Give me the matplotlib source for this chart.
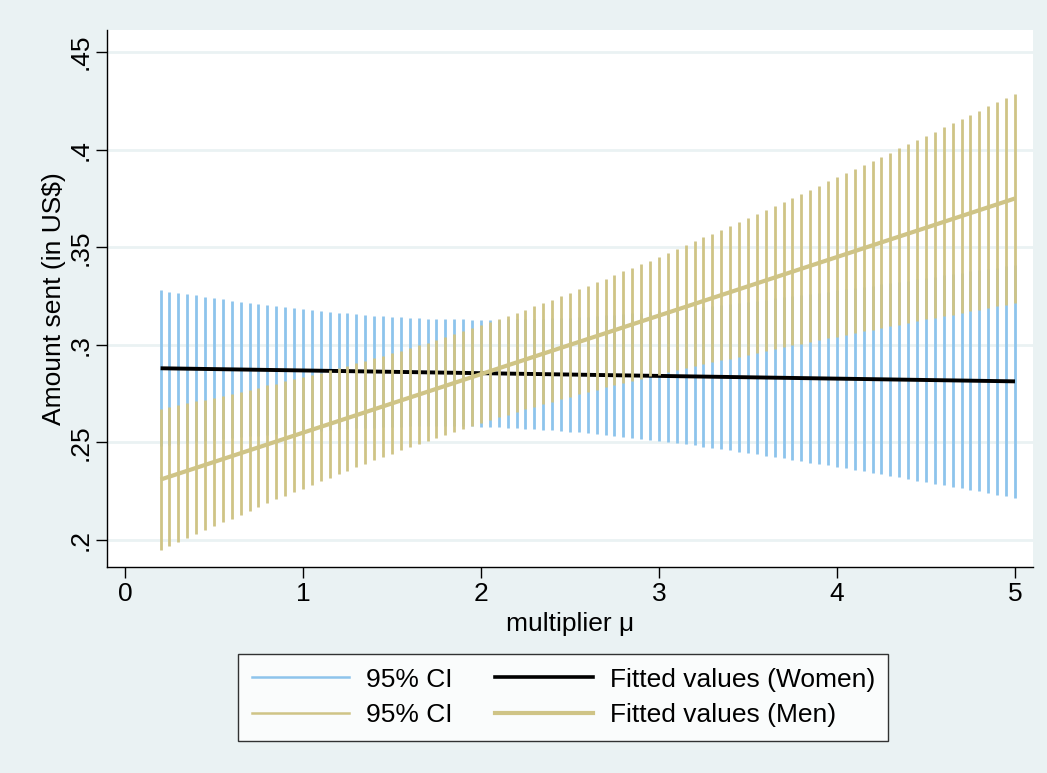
import matplotlib
matplotlib.use("Agg")
import matplotlib.pyplot as plt
from matplotlib.lines import Line2D

#%% Data

# multiplier values where the CI spikes are drawn
mult = [0.20, 0.25, 0.30, 0.35, 0.40, 0.45, 0.50, 0.55, 0.60, 0.65,
        0.70, 0.75, 0.80, 0.85, 0.90, 0.95, 1.00, 1.05, 1.10, 1.15,
        1.20, 1.25, 1.30, 1.35, 1.40, 1.45, 1.50, 1.55, 1.60, 1.65,
        1.70, 1.75, 1.80, 1.85, 1.90, 1.95, 2.00, 2.05, 2.10, 2.15,
        2.20, 2.25, 2.30, 2.35, 2.40, 2.45, 2.50, 2.55, 2.60, 2.65,
        2.70, 2.75, 2.80, 2.85, 2.90, 2.95, 3.00, 3.05, 3.10, 3.15,
        3.20, 3.25, 3.30, 3.35, 3.40, 3.45, 3.50, 3.55, 3.60, 3.65,
        3.70, 3.75, 3.80, 3.85, 3.90, 3.95, 4.00, 4.05, 4.10, 4.15,
        4.20, 4.25, 4.30, 4.35, 4.40, 4.45, 4.50, 4.55, 4.60, 4.65,
        4.70, 4.75, 4.80, 4.85, 4.90, 4.95, 5.00]

# Women: 95% CI bounds
women_lo = [0.2480, 0.2486, 0.2491, 0.2497, 0.2502, 0.2507, 0.2512, 0.2517, 0.2522, 0.2526,
            0.2531, 0.2535, 0.2539, 0.2543, 0.2547, 0.2551, 0.2555, 0.2558, 0.2561, 0.2564,
            0.2567, 0.2570, 0.2572, 0.2574, 0.2576, 0.2578, 0.2580, 0.2581, 0.2582, 0.2583,
            0.2583, 0.2583, 0.2583, 0.2583, 0.2582, 0.2582, 0.2580, 0.2579, 0.2577, 0.2576,
            0.2573, 0.2571, 0.2568, 0.2565, 0.2562, 0.2559, 0.2555, 0.2552, 0.2547, 0.2543,
            0.2539, 0.2534, 0.2529, 0.2524, 0.2519, 0.2514, 0.2508, 0.2503, 0.2497, 0.2491,
            0.2485, 0.2479, 0.2473, 0.2466, 0.2460, 0.2453, 0.2446, 0.2440, 0.2433, 0.2426,
            0.2419, 0.2412, 0.2404, 0.2397, 0.2390, 0.2382, 0.2375, 0.2367, 0.2360, 0.2352,
            0.2344, 0.2337, 0.2329, 0.2321, 0.2313, 0.2305, 0.2297, 0.2289, 0.2281, 0.2273,
            0.2265, 0.2257, 0.2249, 0.2240, 0.2232, 0.2224, 0.2216]
women_hi = [0.3280, 0.3273, 0.3266, 0.3259, 0.3253, 0.3246, 0.3240, 0.3233, 0.3227, 0.3221,
            0.3215, 0.3210, 0.3204, 0.3198, 0.3193, 0.3188, 0.3183, 0.3178, 0.3174, 0.3169,
            0.3165, 0.3161, 0.3157, 0.3153, 0.3150, 0.3147, 0.3144, 0.3141, 0.3139, 0.3137,
            0.3135, 0.3133, 0.3132, 0.3131, 0.3130, 0.3129, 0.3129, 0.3129, 0.3129, 0.3130,
            0.3131, 0.3132, 0.3133, 0.3134, 0.3136, 0.3138, 0.3140, 0.3143, 0.3145, 0.3148,
            0.3151, 0.3154, 0.3158, 0.3161, 0.3165, 0.3169, 0.3173, 0.3177, 0.3182, 0.3186,
            0.3191, 0.3196, 0.3201, 0.3206, 0.3211, 0.3216, 0.3221, 0.3227, 0.3232, 0.3238,
            0.3243, 0.3249, 0.3255, 0.3261, 0.3267, 0.3273, 0.3279, 0.3285, 0.3291, 0.3297,
            0.3304, 0.3310, 0.3316, 0.3323, 0.3329, 0.3336, 0.3342, 0.3349, 0.3356, 0.3362,
            0.3369, 0.3376, 0.3383, 0.3389, 0.3396, 0.3403, 0.3410]

# Men: 95% CI bounds
men_lo = [0.1949, 0.1969, 0.1990, 0.2010, 0.2030, 0.2050, 0.2071, 0.2090, 0.2110, 0.2130,
          0.2150, 0.2169, 0.2188, 0.2208, 0.2227, 0.2246, 0.2264, 0.2283, 0.2302, 0.2320,
          0.2338, 0.2356, 0.2374, 0.2391, 0.2409, 0.2426, 0.2443, 0.2459, 0.2476, 0.2492,
          0.2508, 0.2524, 0.2540, 0.2555, 0.2570, 0.2585, 0.2600, 0.2614, 0.2628, 0.2642,
          0.2656, 0.2669, 0.2683, 0.2696, 0.2709, 0.2721, 0.2734, 0.2746, 0.2758, 0.2770,
          0.2782, 0.2793, 0.2804, 0.2816, 0.2827, 0.2838, 0.2848, 0.2859, 0.2870, 0.2880,
          0.2890, 0.2900, 0.2911, 0.2920, 0.2930, 0.2940, 0.2950, 0.2959, 0.2969, 0.2978,
          0.2988, 0.2997, 0.3006, 0.3015, 0.3024, 0.3033, 0.3042, 0.3051, 0.3060, 0.3069,
          0.3078, 0.3087, 0.3095, 0.3104, 0.3112, 0.3121, 0.3130, 0.3138, 0.3146, 0.3155,
          0.3163, 0.3172, 0.3180, 0.3188, 0.3197, 0.3205, 0.3213]
men_hi = [0.2671, 0.2681, 0.2690, 0.2700, 0.2710, 0.2720, 0.2729, 0.2740, 0.2750, 0.2760,
          0.2770, 0.2781, 0.2792, 0.2802, 0.2813, 0.2824, 0.2836, 0.2847, 0.2858, 0.2870,
          0.2882, 0.2894, 0.2906, 0.2919, 0.2931, 0.2944, 0.2957, 0.2971, 0.2984, 0.2998,
          0.3012, 0.3026, 0.3040, 0.3055, 0.3070, 0.3085, 0.3100, 0.3116, 0.3132, 0.3148,
          0.3164, 0.3181, 0.3197, 0.3214, 0.3231, 0.3249, 0.3266, 0.3284, 0.3302, 0.3320,
          0.3338, 0.3357, 0.3376, 0.3394, 0.3413, 0.3432, 0.3452, 0.3471, 0.3490, 0.3510,
          0.3530, 0.3550, 0.3569, 0.3590, 0.3610, 0.3630, 0.3650, 0.3671, 0.3691, 0.3712,
          0.3732, 0.3753, 0.3774, 0.3795, 0.3816, 0.3837, 0.3858, 0.3879, 0.3900, 0.3921,
          0.3942, 0.3963, 0.3985, 0.4006, 0.4028, 0.4049, 0.4070, 0.4092, 0.4114, 0.4135,
          0.4157, 0.4178, 0.4200, 0.4222, 0.4243, 0.4265, 0.4287]

# Fitted (straight) lines: end points
fit_x = [0.2, 5.0]
women_fit = [0.2880, 0.2813]
men_fit = [0.2310, 0.3750]

yticks = [0.2, 0.25, 0.3, 0.35, 0.4, 0.45]
ytick_labels = ['.2', '.25', '.3', '.35', '.4', '.45']
xticks = [0, 1, 2, 3, 4, 5]

#%% Styling
bg = '#EAF2F3'
blue = '#8DC4EC'
tan = '#CFC486'
plt.rcParams['font.family'] = ['Liberation Sans', 'DejaVu Sans']
fs = 19

#%% Figure
fig = plt.figure(figsize=(10.47, 7.73), dpi=100, facecolor=bg)
ax = fig.add_axes([0.1022, 0.2665, 0.8844, 0.6947])
ax.set_facecolor('white')

ax.vlines(mult, women_lo, women_hi, color=blue, linewidth=2.0, capstyle='butt', zorder=2)
ax.plot(fit_x, women_fit, color='black', linewidth=2.8, solid_capstyle='butt', zorder=3)
ax.vlines(mult, men_lo, men_hi, color=tan, linewidth=2.0, capstyle='butt', zorder=4)
ax.plot(fit_x, men_fit, color=tan, linewidth=3.0, solid_capstyle='butt', zorder=5)

ax.set_xlim(-0.101, 5.101)
ax.set_ylim(0.1862, 0.4613)
ax.set_xticks(xticks)
ax.set_yticks(yticks)
ax.set_yticklabels(ytick_labels, rotation=90, va='center')
ax.tick_params(axis='both', labelsize=fs, length=8, width=1, color='black', direction='out')
ax.tick_params(axis='x', pad=3)
ax.tick_params(axis='y', pad=2)
ax.yaxis.grid(True, color=bg, linewidth=2)
ax.set_axisbelow(True)

for side in ['top', 'right']:
    ax.spines[side].set_visible(False)
for side in ['left', 'bottom']:
    ax.spines[side].set_linewidth(1)
    ax.spines[side].set_color('black')

ax.set_xlabel('multiplier \u03bc', fontsize=fs, labelpad=4)
ax.set_ylabel('Amount sent (in US$)', fontsize=fs, labelpad=2)

handles = [Line2D([], [], color=blue, linewidth=1.8),
           Line2D([], [], color=tan, linewidth=1.8),
           Line2D([], [], color='black', linewidth=2.6),
           Line2D([], [], color=tan, linewidth=3.0)]
labels = ['95% CI', '95% CI', 'Fitted values (Women)', 'Fitted values (Men)']
leg = fig.legend(handles, labels, ncol=2, loc='center', bbox_to_anchor=(0.538, 0.0977),
                 fontsize=fs, frameon=True, fancybox=False, handlelength=3.7,
                 handletextpad=0.65, columnspacing=1.6, labelspacing=0.45, borderpad=0.5)
leg.get_frame().set_edgecolor('black')
leg.get_frame().set_linewidth(1)
leg.get_frame().set_facecolor('white')

fig.savefig('out.png', dpi=100, facecolor=bg)
